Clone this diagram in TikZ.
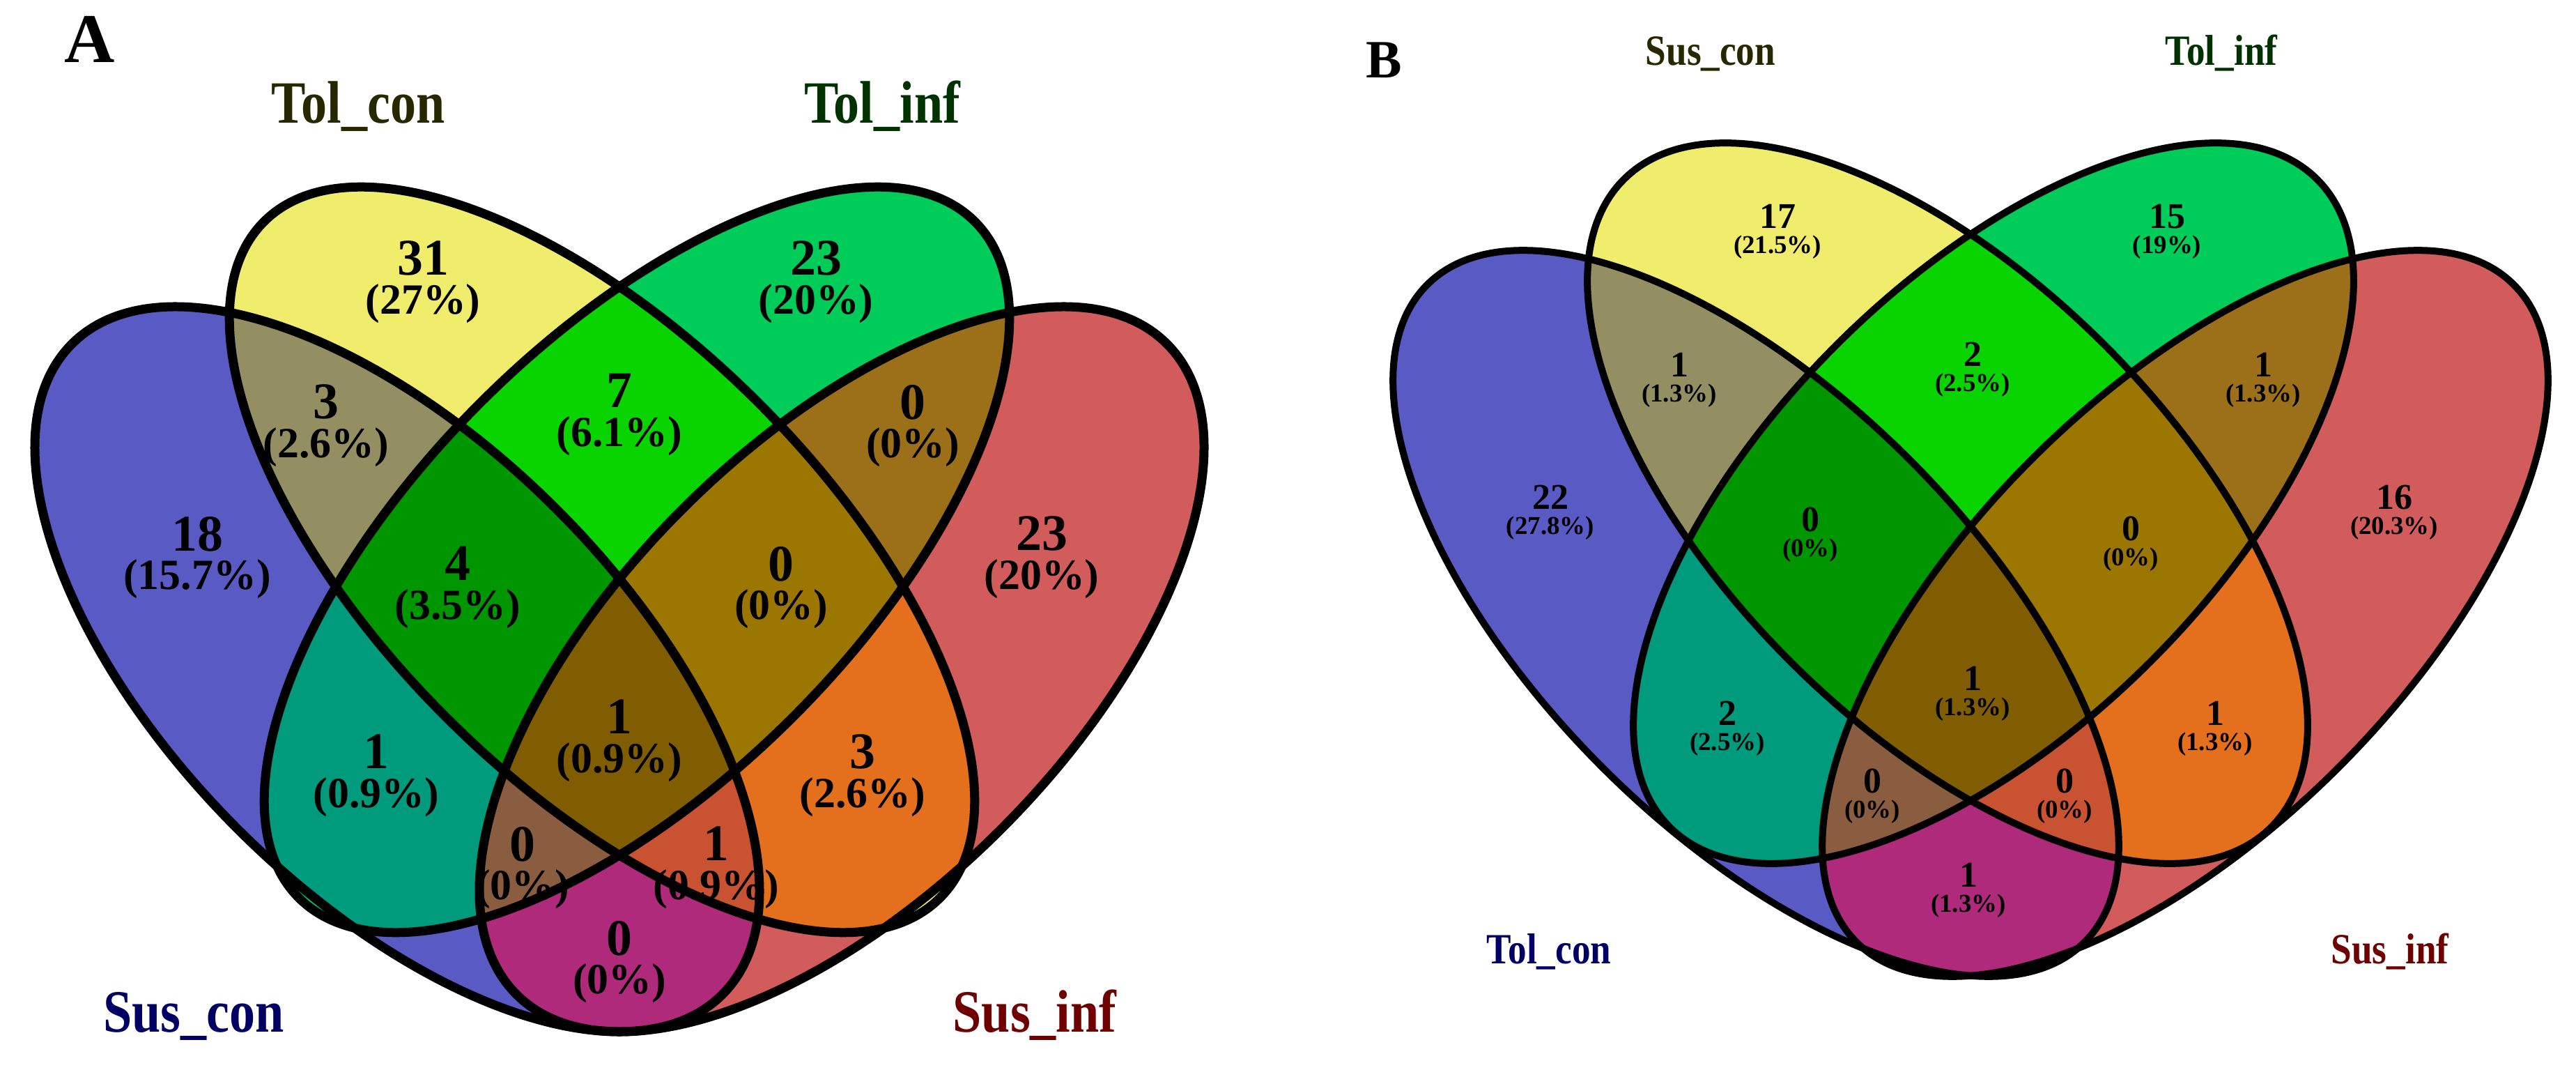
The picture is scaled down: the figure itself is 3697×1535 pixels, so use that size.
\documentclass[tikz,border=0pt]{standalone}
\usepackage{fontspec}
\setmainfont{Liberation Serif}
\newfontfamily\labfont[FakeStretch=0.86]{Liberation Serif}
\usepackage{xcolor}
\usetikzlibrary{calc}

% region colours
\definecolor{cB}{RGB}{90,90,196}
\definecolor{cY}{RGB}{240,236,108}
\definecolor{cG}{RGB}{0,204,90}
\definecolor{cR}{RGB}{210,92,92}
\definecolor{cBY}{RGB}{148,143,98}
\definecolor{cYG}{RGB}{10,212,0}
\definecolor{cGR}{RGB}{155,112,25}
\definecolor{cBG}{RGB}{0,155,125}
\definecolor{cYR}{RGB}{228,112,30}
\definecolor{cBR}{RGB}{176,42,124}
\definecolor{cBYG}{RGB}{0,150,0}
\definecolor{cYGR}{RGB}{155,118,0}
\definecolor{cBGR}{RGB}{138,92,64}
\definecolor{cBYR}{RGB}{200,82,50}
\definecolor{cAll}{RGB}{128,93,0}
\definecolor{labY}{RGB}{40,40,0}
\definecolor{labG}{RGB}{0,50,0}
\definecolor{labB}{RGB}{0,0,100}
\definecolor{labR}{RGB}{110,0,0}

\newcommand\cntAfont{\fontsize{21}{15.9}\selectfont}
\newcommand\cntBfont{\fontsize{14.8}{10.2}\selectfont}

\tikzset{
  regA/.style={font=\bfseries\fontsize{17.6}{15.9}\selectfont, align=center, inner sep=0pt},
  regB/.style={font=\bfseries\fontsize{10.5}{10.2}\selectfont, align=center, inner sep=0pt},
  setA/.style={font=\labfont\bfseries\fontsize{24.5}{24.5}\selectfont, anchor=base, inner sep=0pt},
  setB/.style={font=\labfont\bfseries\fontsize{17.6}{17.6}\selectfont, anchor=base, inner sep=0pt},
  panel/.style={font=\bfseries\fontsize{#1}{#1}\selectfont, anchor=base, inner sep=0pt},
}

% the four ellipses of one panel
\newcommand\eBlue[1]{\path[#1,rotate around={-45:(\vx-\bdx,\by)}] (\vx-\bdx,\by) ellipse [x radius=\ba, y radius=\bb];}
\newcommand\eRed[1]{\path[#1,rotate around={45:(\vx+\bdx,\by)}] (\vx+\bdx,\by) ellipse [x radius=\ba, y radius=\bb];}
\newcommand\eYel[1]{\path[#1,rotate around={-45:(\vx-\ydx,\yy)}] (\vx-\ydx,\yy) ellipse [x radius=\ya, y radius=\yb];}
\newcommand\eGrn[1]{\path[#1,rotate around={45:(\vx+\ydx,\yy)}] (\vx+\ydx,\yy) ellipse [x radius=\ya, y radius=\yb];}

\newcommand\vennfill[1]{%
  \eBlue{fill=cB}\eRed{fill=cR}\eYel{fill=cY}\eGrn{fill=cG}
  \begin{scope}\eBlue{clip}\eYel{fill=cBY}\end{scope}
  \begin{scope}\eBlue{clip}\eGrn{fill=cBG}\end{scope}
  \begin{scope}\eBlue{clip}\eRed{fill=cBR}\end{scope}
  \begin{scope}\eYel{clip}\eGrn{fill=cYG}\end{scope}
  \begin{scope}\eYel{clip}\eRed{fill=cYR}\end{scope}
  \begin{scope}\eGrn{clip}\eRed{fill=cGR}\end{scope}
  \begin{scope}\eBlue{clip}\eYel{clip}\eGrn{fill=cBYG}\end{scope}
  \begin{scope}\eBlue{clip}\eYel{clip}\eRed{fill=cBYR}\end{scope}
  \begin{scope}\eBlue{clip}\eGrn{clip}\eRed{fill=cBGR}\end{scope}
  \begin{scope}\eYel{clip}\eGrn{clip}\eRed{fill=cYGR}\end{scope}
  \begin{scope}\eBlue{clip}\eYel{clip}\eGrn{clip}\eRed{fill=cAll}\end{scope}
  \eBlue{draw,line width=#1}\eRed{draw,line width=#1}
  \eYel{draw,line width=#1}\eGrn{draw,line width=#1}}

% count and percentage of one region
\newcommand\regA[5]{\node[regA] (#1) at (#2,#3) {{\cntAfont #4}\\(#5\%)};}
\newcommand\regB[5]{\node[regB] (#1) at (#2,#3) {{\cntBfont #4}\\(#5\%)};}

\begin{document}
\begin{tikzpicture}[x=0.1mm, y=-0.1mm]
\fill[white] (0,0) rectangle (3697,1535);
\useasboundingbox (0,0) rectangle (3697,1535);

%% panel A
\def\vx{889}\def\bdx{319}\def\by{960}\def\ba{660}\def\bb{324}
\def\ydx{25}\def\yy{803}\def\ya{686}\def\yb{318}
\vennfill{1.3mm}

\node[panel=28.5] (pA) at (129,90) {A};
\node[setA, text=labY] (aTolcon) at (514,177) {Tol\_con};
\node[setA, text=labG] (aTolinf) at (1266,177) {Tol\_inf};
\node[setA, text=labB] (aSuscon) at (278,1480) {Sus\_con};
\node[setA, text=labR] (aSusinf) at (1485,1480) {Sus\_inf};

\regA{aY}{607}{405}{31}{27}
\regA{aG}{1171}{405}{23}{20}
\regA{aBY}{468}{611}{3}{2.6}
\regA{aYG}{889}{595}{7}{6.1}
\regA{aGR}{1310}{611}{0}{0}
\regA{aB}{283}{800}{18}{15.7}
\regA{aBYG}{657}{843}{4}{3.5}
\regA{aYGR}{1121}{843}{0}{0}
\regA{aR}{1495}{800}{23}{20}
\regA{aAll}{889}{1063}{1}{0.9}
\regA{aBG}{540}{1113}{1}{0.9}
\regA{aYR}{1238}{1113}{3}{2.6}
\regA{aBGR}{750}{1245}{0}{0}
\regA{aBYR}{1028}{1245}{1}{0.9}
\regA{aBR}{889}{1380}{0}{0}

%% panel B
\def\vx{2828}\def\bdx{308}\def\by{880}\def\ba{667}\def\bb{312}
\def\ydx{33}\def\yy{722}\def\ya{657}\def\yb{320}
\vennfill{1.0mm}

\node[panel=22] (pB) at (1986,112) {B};
\node[setB, text=labY] (bSuscon) at (2455,94) {Sus\_con};
\node[setB, text=labG] (bTolinf) at (3188,94) {Tol\_inf};
\node[setB, text=labB] (bTolcon) at (2223,1382) {Tol\_con};
\node[setB, text=labR] (bSusinf) at (3430,1382) {Sus\_inf};

\regB{bY}{2551}{332}{17}{21.5}
\regB{bG}{3110}{332}{15}{19}
\regB{bBY}{2410}{545}{1}{1.3}
\regB{bYG}{2831}{530}{2}{2.5}
\regB{bGR}{3248}{545}{1}{1.3}
\regB{bB}{2225}{735}{22}{27.8}
\regB{bBYG}{2598}{767}{0}{0}
\regB{bYGR}{3058}{780}{0}{0}
\regB{bR}{3436}{735}{16}{20.3}
\regB{bAll}{2831}{995}{1}{1.3}
\regB{bBG}{2479}{1045}{2}{2.5}
\regB{bYR}{3179}{1045}{1}{1.3}
\regB{bBGR}{2687}{1142}{0}{0}
\regB{bBYR}{2963}{1142}{0}{0}
\regB{bBR}{2825}{1277}{1}{1.3}
\end{tikzpicture}
\end{document}
